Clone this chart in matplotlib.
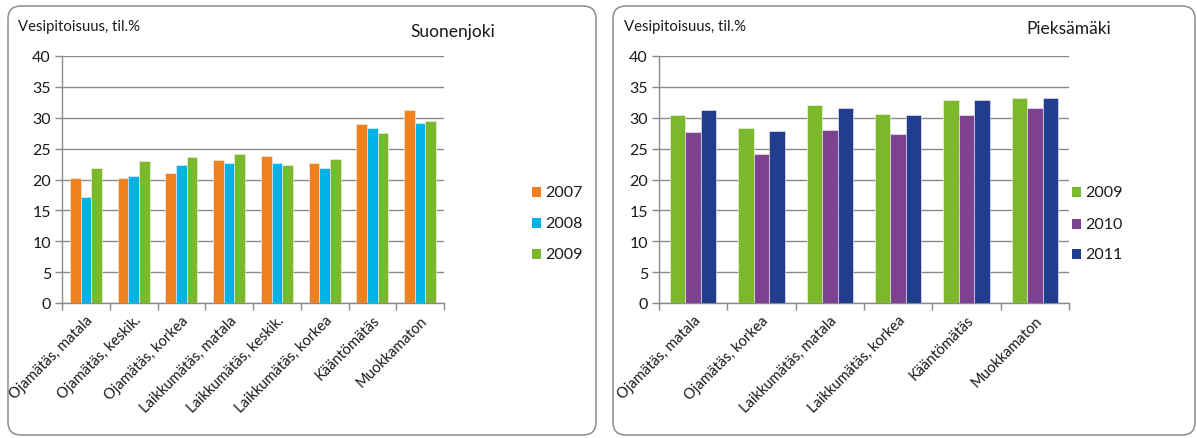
import numpy as np
import matplotlib
matplotlib.use("Agg")
import matplotlib.pyplot as plt
from matplotlib.patches import FancyBboxPatch

plt.rcParams['font.family'] = ['Lato', 'DejaVu Sans']

# Suonenjoki
cats_left = ["Ojamätäs, matala", "Ojamätäs, keskik.", "Ojamätäs, korkea",
             "Laikkumätäs, matala", "Laikkumätäs, keskik.", "Laikkumätäs, korkea",
             "Kääntömätäs", "Muokkamaton"]
years_left = ["2007", "2008", "2009"]
s2007 = [20.3, 20.3, 21.0, 23.2, 23.8, 22.7, 29.0, 31.3]
s2008 = [17.1, 20.6, 22.3, 22.6, 22.6, 21.9, 28.4, 29.2]
s2009_left = [21.8, 23.0, 23.7, 24.2, 22.4, 23.3, 27.6, 29.5]

# Pieksämäki
cats_right = ["Ojamätäs, matala", "Ojamätäs, korkea", "Laikkumätäs, matala",
              "Laikkumätäs, korkea", "Kääntömätäs", "Muokkamaton"]
years_right = ["2009", "2010", "2011"]
s2009_right = [30.5, 28.4, 32.1, 30.6, 32.9, 33.2]
s2010 = [27.7, 24.2, 28.0, 27.3, 30.5, 31.6]
s2011 = [31.3, 27.8, 31.6, 30.5, 32.9, 33.2]

yticks = [0, 5, 10, 15, 20, 25, 30, 35, 40]
ylabel = "Vesipitoisuus, til.%"

W, H = 1197, 439
fig = plt.figure(figsize=(W / 100, H / 100), dpi=100)
fig.patch.set_facecolor("white")

TXT = "#1a1a1a"
GRID = "#8a8a8a"


def px_axes(x0, x1, ytop, ybot):
    return fig.add_axes([x0 / W, (H - ybot) / H, (x1 - x0) / W, (ybot - ytop) / H])


def panel(x0, x1, y0, y1):
    # rounded frame around one chart, specified in pixels (top-left origin)
    p = FancyBboxPatch((x0 / 100, (H - y1) / 100), (x1 - x0) / 100, (y1 - y0) / 100,
                       boxstyle="round,pad=0,rounding_size=0.13",
                       transform=fig.dpi_scale_trans, facecolor="none",
                       edgecolor="#8c8c8c", linewidth=1.1, zorder=-1)
    fig.patches.append(p)


def draw(ax, cats, series, colors, years, leg_x, leg_ys):
    n = len(cats)
    x = np.arange(n)
    w = 0.225
    for i, (vals, c) in enumerate(zip(series, colors)):
        ax.bar(x + (i - 1) * w, vals, width=w, color=c, edgecolor="#f4f4f4",
               linewidth=0.4, zorder=3)
    ax.set_xlim(-0.5, n - 0.5)
    ax.set_ylim(0, 40)
    ax.set_yticks(yticks)
    ax.set_yticklabels([str(t) for t in yticks], fontsize=11.5, color=TXT)
    ax.yaxis.grid(True, color=GRID, linewidth=1.0, zorder=0)
    ax.set_axisbelow(True)
    ax.set_xticks(np.arange(n + 1) - 0.5)
    ax.set_xticklabels([])
    ax.set_xticks(x, minor=True)
    ax.set_xticklabels(cats, minor=True, rotation=45, ha="right",
                       rotation_mode="anchor", fontsize=10.5, color=TXT)
    ax.tick_params(axis="x", which="minor", length=0, pad=7)
    ax.tick_params(axis="x", which="major", length=5, color=GRID, width=1)
    ax.tick_params(axis="y", length=5, color=GRID, width=1, pad=3)
    for s in ("top", "right"):
        ax.spines[s].set_visible(False)
    for s in ("left", "bottom"):
        ax.spines[s].set_color(GRID)
        ax.spines[s].set_linewidth(1.0)
    ax.patch.set_alpha(0)
    # legend entries
    for yr, c, ly in zip(years, colors, leg_ys):
        fig.patches.append(plt.Rectangle((leg_x / W, (H - ly - 5) / H), 9 / W, 10 / H,
                                         transform=fig.transFigure, facecolor=c,
                                         edgecolor="none", zorder=5))
        fig.text((leg_x + 13) / W, (H - ly) / H, yr, fontsize=11.5,
                 va="center", ha="left", color=TXT)


panel(8, 596, 7, 436)
panel(613, 1195, 7, 436)

axL = px_axes(62, 444, 57, 304)
draw(axL, cats_left, [s2007, s2008, s2009_left],
     ["#F0821E", "#00B3E6", "#7CB82C"], years_left, 532, [193, 224, 255])
fig.text(18 / W, (H - 27) / H, ylabel, fontsize=10.7, va="center", ha="left",
         color=TXT)
fig.text(495 / W, (H - 32) / H, "Suonenjoki", fontsize=12.5, va="center",
         ha="right", color=TXT)

axR = px_axes(659, 1069, 57, 304)
draw(axR, cats_right, [s2009_right, s2010, s2011],
     ["#7CB82C", "#7E4293", "#213E8E"], years_right, 1072, [193, 225, 255])
fig.text(624 / W, (H - 27) / H, ylabel, fontsize=10.7, va="center", ha="left",
         color=TXT)
fig.text(1111 / W, (H - 29) / H, "Pieksämäki", fontsize=12.5, va="center",
         ha="right", color=TXT)

fig.savefig("out.png", dpi=100, facecolor="white")
